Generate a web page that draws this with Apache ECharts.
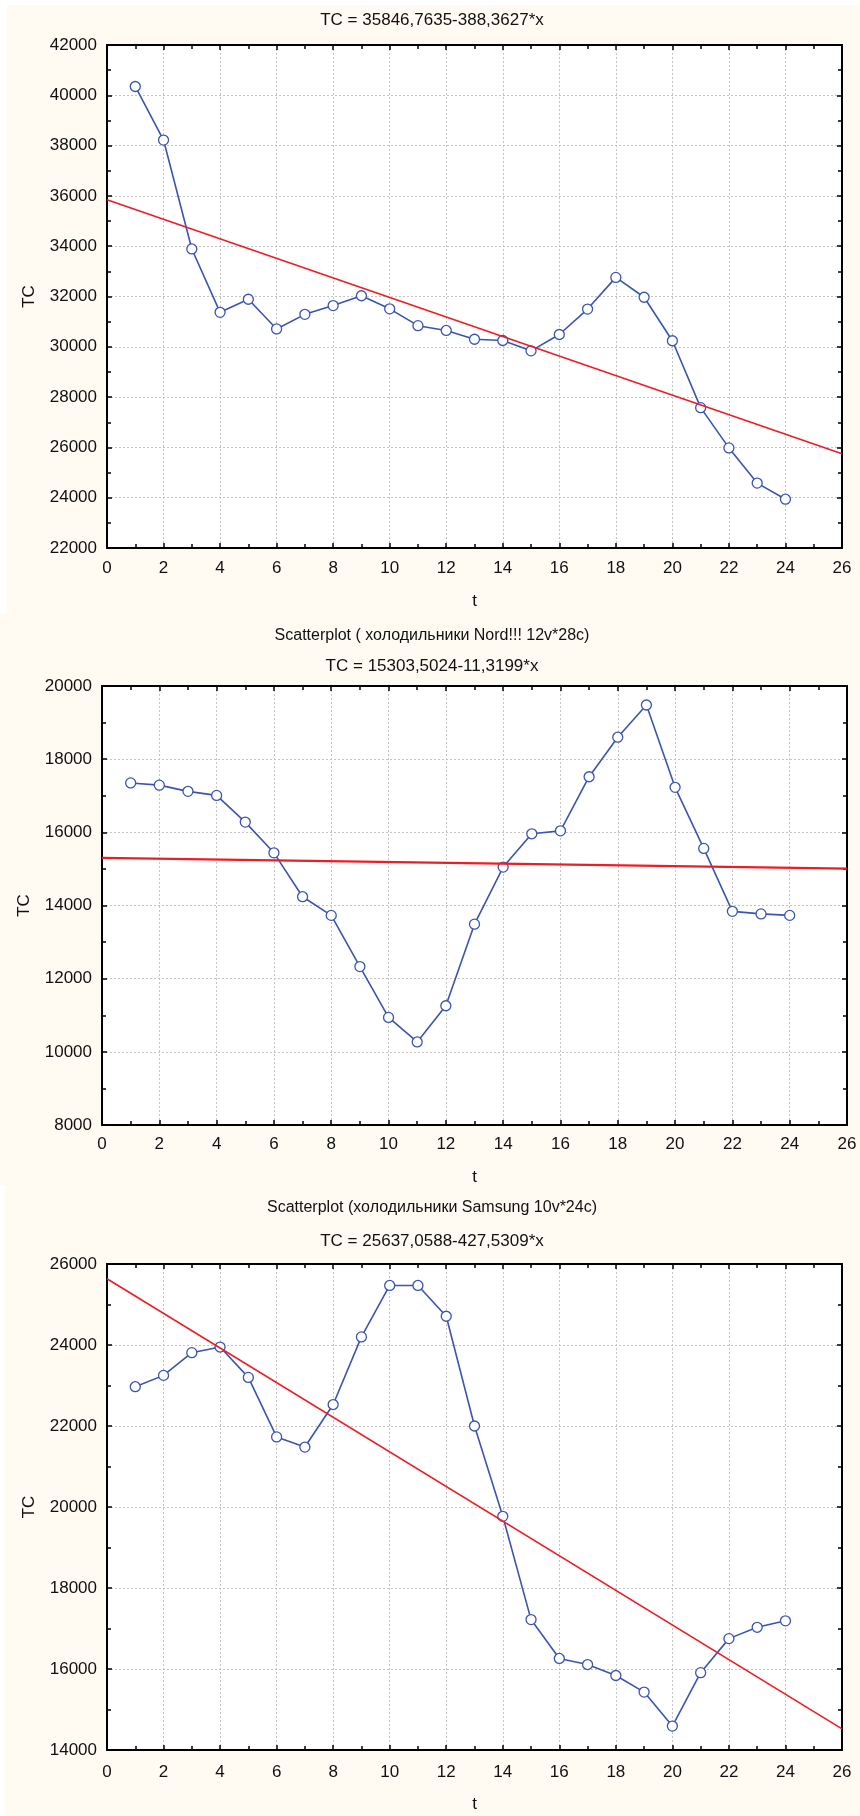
<!DOCTYPE html>
<html>
<head>
<meta charset="utf-8">
<script src="https://cdn.jsdelivr.net/npm/echarts@6/dist/echarts.min.js"></script>
<style>
  html, body { margin: 0; padding: 0; background: #ffffff; }
  .panel { position: absolute; background: #fffbf3; }
  #chart { position: absolute; left: 0; top: 0; width: 860px; height: 1816px; }
</style>
</head>
<body>
<div class="panel" style="left:7px;top:5px;width:853px;height:608px"></div>
<div class="panel" style="left:0px;top:613px;width:860px;height:572px"></div>
<div class="panel" style="left:5px;top:1185px;width:855px;height:631px"></div>
<div id="chart"></div>
<script>
// time index t shared by all three plots
const tValues = [1, 2, 3, 4, 5, 6, 7, 8, 9, 10, 11, 12, 13, 14, 15, 16, 17, 18, 19, 20, 21, 22, 23, 24];

// TC observations
const tcPlot1 = [40350, 38220, 33890, 31370, 31890, 30710, 31290, 31640, 32030, 31510, 30840, 30650,
                 30300, 30250, 29840, 30490, 31500, 32760, 31970, 30240, 27580, 25980, 24580, 23940];
const tcPlot2 = [17350, 17290, 17120, 17010, 16280, 15440, 14240, 13730, 12330, 10940, 10270, 11260,
                 13490, 15050, 15960, 16040, 17520, 18600, 19480, 17230, 15560, 13840, 13770, 13730];
const tcPlot3 = [22970, 23250, 23810, 23950, 23200, 21730, 21480, 22530, 24200, 25470, 25470, 24710,
                 22000, 19770, 17220, 16260, 16110, 15840, 15430, 14590, 15910, 16750, 17030, 17190];

// linear fits TC = a + b*x, as printed in the headings
const fit1 = [35846.7635, -388.3627];
const fit2 = [15303.5024, -11.3199];
const fit3 = [25637.0588, -427.5309];

// headings
const titles1 = ['TC = 35846,7635-388,3627*x'];
const titles2 = ['Scatterplot ( холодильники Nord!!! 12v*28c)', 'TC = 15303,5024-11,3199*x'];
const titles3 = ['Scatterplot (холодильники Samsung 10v*24c)', 'TC = 25637,0588-427,5309*x'];

// axis ranges and steps
const xRange = [0, 26];
const xStep = 2;
const yRange1 = [22000, 42000];
const yRange2 = [8000, 20000];
const yRange3 = [14000, 26000];
const yStep = 2000;
const xName = 't';
const yName = 'TC';

const FONT = 'Liberation Sans, Arial, Helvetica, sans-serif';
const INK = '#111111';
const BLUE = '#3a55b0';
const RED = '#ee1c24';

const grids = [
  { left: 107, top: 45, width: 735, height: 503 },
  { left: 102, top: 686, width: 745, height: 439 },
  { left: 107, top: 1264, width: 735, height: 486 }
];
const yRanges = [yRange1, yRange2, yRange3];
const tcSets = [tcPlot1, tcPlot2, tcPlot3];
const fits = [fit1, fit2, fit3];
const fitWidths = [1.6, 2.2, 1.6];
const xLabelMargins = [12, 11, 14];
const xNameGaps = [45, 44, 46];

const frame = { show: true, onZero: false, lineStyle: { color: '#000', width: 2 } };
const plain = function (v) { return String(v); };
const grid = [], xAxis = [], yAxis = [], series = [];

grids.forEach(function (g, i) {
  grid.push(Object.assign({ show: true, backgroundColor: '#ffffff', borderWidth: 0 }, g));
  const yr = yRanges[i];
  // bottom axis with labels and grid lines
  xAxis.push({
    gridIndex: i, type: 'value', position: 'bottom', min: xRange[0], max: xRange[1], interval: xStep,
    name: xName, nameLocation: 'middle', nameGap: xNameGaps[i],
    nameTextStyle: { fontFamily: FONT, fontSize: 17, color: INK },
    axisLine: frame,
    axisTick: { show: true, inside: true, length: 5, lineStyle: { color: '#000', width: 1.5 } },
    minorTick: { show: true, splitNumber: 2, length: 4, lineStyle: { color: '#000', width: 1.5 } },
    splitLine: { show: true, lineStyle: { color: '#c4c4c4', width: 1, type: [2, 2] } },
    axisLabel: { fontFamily: FONT, fontSize: 17, color: INK, margin: xLabelMargins[i], formatter: plain }
  });
  // top edge of the frame
  xAxis.push({
    gridIndex: i, type: 'value', position: 'top', min: xRange[0], max: xRange[1], interval: xStep,
    axisLine: frame,
    axisTick: { show: true, inside: true, length: 5, lineStyle: { color: '#000', width: 1.5 } },
    minorTick: { show: true, splitNumber: 2, length: 4, lineStyle: { color: '#000', width: 1.5 } },
    splitLine: { show: false }, axisLabel: { show: false }
  });
  // left axis with labels and grid lines
  yAxis.push({
    gridIndex: i, type: 'value', position: 'left', min: yr[0], max: yr[1], interval: yStep,
    name: yName, nameLocation: 'middle', nameGap: 69, nameRotate: 90,
    nameTextStyle: { fontFamily: FONT, fontSize: 17, color: INK },
    axisLine: frame,
    axisTick: { show: true, inside: true, length: 5, lineStyle: { color: '#000', width: 1.5 } },
    minorTick: { show: true, splitNumber: 2, length: 4, lineStyle: { color: '#000', width: 1.5 } },
    splitLine: { show: true, lineStyle: { color: '#c4c4c4', width: 1, type: [2, 2] } },
    axisLabel: { fontFamily: FONT, fontSize: 17, color: INK, margin: 10, formatter: plain }
  });
  // right edge of the frame
  yAxis.push({
    gridIndex: i, type: 'value', position: 'right', min: yr[0], max: yr[1], interval: yStep,
    axisLine: frame,
    axisTick: { show: true, inside: true, length: 5, lineStyle: { color: '#000', width: 1.5 } },
    minorTick: { show: true, splitNumber: 2, length: 4, lineStyle: { color: '#000', width: 1.5 } },
    splitLine: { show: false }, axisLabel: { show: false }
  });

  // observed TC
  series.push({
    type: 'line', xAxisIndex: 2 * i, yAxisIndex: 2 * i,
    data: tValues.map(function (t, k) { return [t, tcSets[i][k]]; }),
    symbol: 'circle', symbolSize: 10, showSymbol: true,
    lineStyle: { color: BLUE, width: 1.6 },
    itemStyle: { color: '#ffffff', borderColor: BLUE, borderWidth: 1.3 },
    emphasis: { disabled: true }, animation: false, z: 2
  });
  // fitted line over the whole t range
  const f = fits[i];
  series.push({
    type: 'line', xAxisIndex: 2 * i, yAxisIndex: 2 * i,
    data: [[xRange[0], f[0] + f[1] * xRange[0]], [xRange[1], f[0] + f[1] * xRange[1]]],
    symbol: 'none', lineStyle: { color: RED, width: fitWidths[i] },
    emphasis: { disabled: true }, animation: false, z: 3
  });
});

// headings above each plot
function heading(text, y, size) {
  return {
    type: 'text', x: 432, y: y,
    style: { text: text, fontFamily: FONT, fontSize: size, fill: INK, textAlign: 'center', textVerticalAlign: 'middle' }
  };
}
const graphic = [
  heading(titles1[0], 20, 17),
  heading(titles2[0], 636, 16),
  heading(titles2[1], 666, 17),
  heading(titles3[0], 1208, 16),
  heading(titles3[1], 1241, 17)
];

const chart = echarts.init(document.getElementById('chart'), null, { renderer: 'canvas' });
chart.setOption({
  backgroundColor: 'transparent',
  animation: false,
  grid: grid,
  xAxis: xAxis,
  yAxis: yAxis,
  series: series,
  graphic: graphic
});
</script>
</body>
</html>
